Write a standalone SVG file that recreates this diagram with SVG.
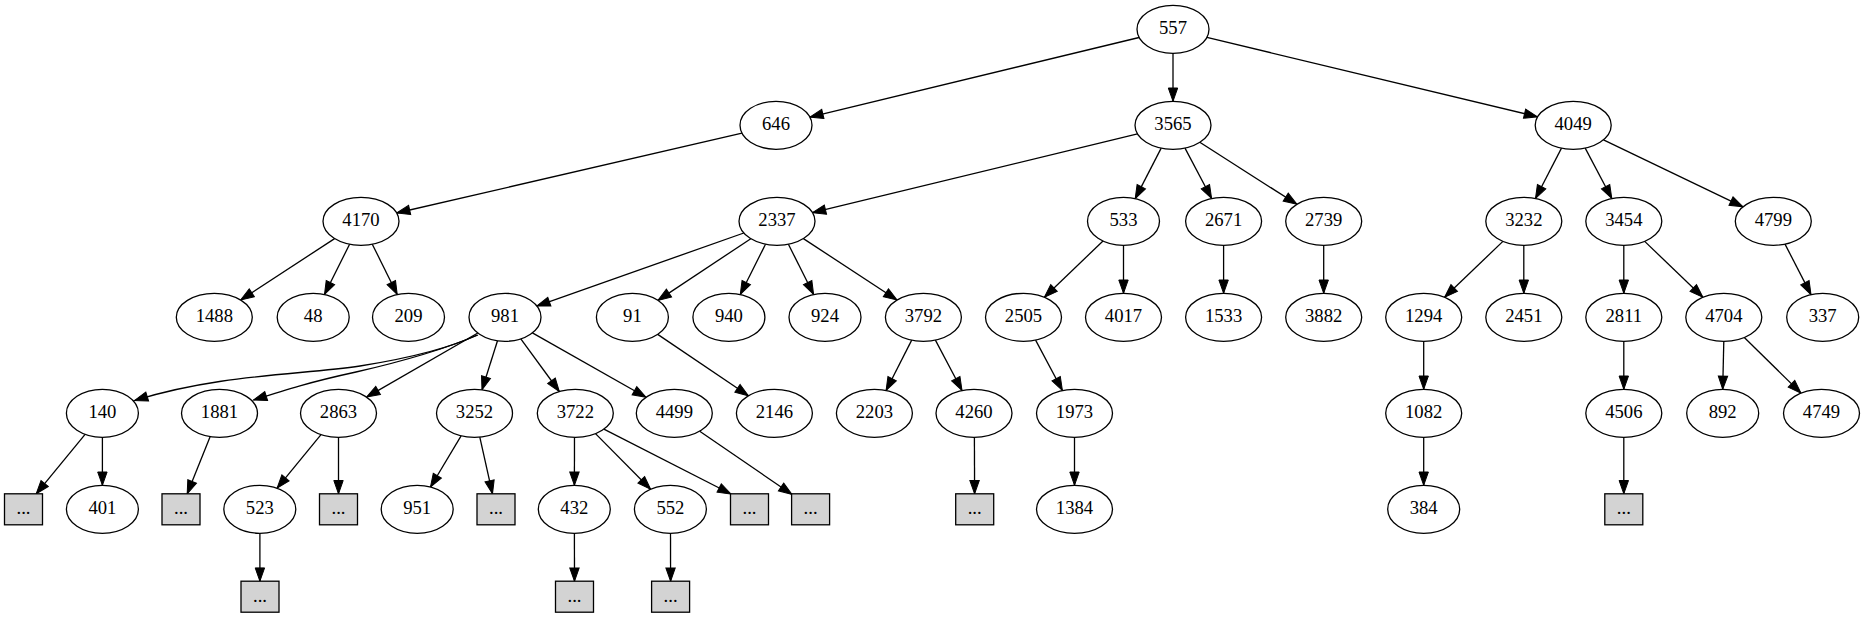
<svg xmlns="http://www.w3.org/2000/svg" width="1865" height="617" viewBox="0 0 1865 617">
<style>
.node ellipse{fill:#ffffff;stroke:#000000;stroke-width:1.3}
.node rect{fill:#d3d3d3;stroke:#000000;stroke-width:1.3}
.node text{font-family:"Liberation Serif","Times New Roman",serif;font-size:18.67px;text-anchor:middle;fill:#000000}
#edges path{fill:none;stroke:#000000;stroke-width:1.3;marker-end:url(#arr)}
</style>
<defs>
<marker id="arr" markerUnits="userSpaceOnUse" markerWidth="16" markerHeight="12" viewBox="0 -6 14 12" refX="13.3" refY="0" orient="auto">
<path d="M0,-4.7 L13.3,0 L0,4.7 z" fill="#000000" stroke="#000000" stroke-width="1"/>
</marker>
</defs>
<rect x="0" y="0" width="1865" height="617" fill="#ffffff"/>
<g id="edges">
<path d="M1139.1,37.5 L809.9,117.1"/>
<path d="M1173,53.3 L1173,101.3"/>
<path d="M1206.9,37.4 L1537.5,116.8"/>
<path d="M742,133.2 L396.7,213"/>
<path d="M1137.5,133.9 L812.5,212.7"/>
<path d="M1161.2,148.1 L1135.2,198.6"/>
<path d="M1185,148.1 L1211.6,198.5"/>
<path d="M1199.8,142.3 L1296.9,204.3"/>
<path d="M1561.5,148.1 L1535.5,198.5"/>
<path d="M1585.2,148.1 L1611.8,198.5"/>
<path d="M1603.5,139.8 L1743,206.8"/>
<path d="M334.6,238.6 L240.7,300"/>
<path d="M349.6,244.2 L324.5,294.5"/>
<path d="M372.3,244.2 L397.2,294.5"/>
<path d="M743.8,233 L536.8,306.1"/>
<path d="M750.8,238.7 L657.9,300.4"/>
<path d="M765.5,244.2 L740.3,294.5"/>
<path d="M788.4,244.2 L813.6,294.5"/>
<path d="M803.4,238.6 L897,300"/>
<path d="M1103,241 L1044.4,297.2"/>
<path d="M1123.5,245.3 L1123.5,293.3"/>
<path d="M1223.6,245.3 L1223.6,293.3"/>
<path d="M1323.7,245.3 L1323.7,293.3"/>
<path d="M1502.9,241.4 L1444.6,297.2"/>
<path d="M1523.8,245.3 L1523.8,293.3"/>
<path d="M1623.8,245.3 L1623.8,293.3"/>
<path d="M1644.7,241.4 L1702.9,297.2"/>
<path d="M1785,244.1 L1811,294.6"/>
<path d="M477,335 C452,347 410,358 360,366 C300,375 220,374 134.5,400.5"/>
<path d="M478,335 C440,351 400,362 356,372 C310,382 285,390 253.5,400"/>
<path d="M477.8,333 L366.6,397.1"/>
<path d="M497.5,340.8 L482,389.8"/>
<path d="M520.8,338.9 L559.3,391.5"/>
<path d="M532.4,332.9 L646,397.3"/>
<path d="M657.7,334.4 L748.5,395.8"/>
<path d="M911.7,340.1 L886.1,390.5"/>
<path d="M935.4,340.1 L962,390.5"/>
<path d="M1035.6,340.1 L1062.4,390.5"/>
<path d="M1423.7,341.3 L1423.7,389.3"/>
<path d="M1623.8,341.3 L1623.8,389.3"/>
<path d="M1723.8,341.3 L1722.7,389.3"/>
<path d="M1744.3,337.5 L1801,393.1"/>
<path d="M85.1,434.4 L36.2,493.8"/>
<path d="M102.4,437.3 L102.4,485.3"/>
<path d="M210.2,436.6 L187.2,493.8"/>
<path d="M321,434.6 L277.1,488.2"/>
<path d="M338.5,437.3 L338.5,493.8"/>
<path d="M461.1,435.8 L430.5,487"/>
<path d="M479.8,437.1 L492.5,493.8"/>
<path d="M574.5,437.3 L574.4,485.3"/>
<path d="M595.5,433.6 L650.6,489.3"/>
<path d="M603.9,429.1 L731,494"/>
<path d="M699.7,431.2 L792,494.5"/>
<path d="M974.4,437.3 L974.6,493.8"/>
<path d="M1074.5,437.3 L1074.5,485.3"/>
<path d="M1423.7,437.3 L1423.7,485.3"/>
<path d="M1623.8,437.3 L1623.8,493.8"/>
<path d="M259.9,533.3 L259.9,581.2"/>
<path d="M574.4,533.3 L574.5,581.2"/>
<path d="M670.5,533.3 L670.6,581.2"/>
</g>
<g id="n557" class="node"><ellipse cx="1173" cy="29.3" rx="36" ry="24"/><text x="1173" y="34.3">557</text></g>
<g id="n646" class="node"><ellipse cx="776" cy="125.3" rx="36" ry="24"/><text x="776" y="130.3">646</text></g>
<g id="n3565" class="node"><ellipse cx="1173" cy="125.3" rx="38" ry="24"/><text x="1173" y="130.3">3565</text></g>
<g id="n4049" class="node"><ellipse cx="1573.2" cy="125.3" rx="38" ry="24"/><text x="1573.2" y="130.3">4049</text></g>
<g id="n4170" class="node"><ellipse cx="361" cy="221.3" rx="38" ry="24"/><text x="361" y="226.3">4170</text></g>
<g id="n2337" class="node"><ellipse cx="777" cy="221.3" rx="38" ry="24"/><text x="777" y="226.3">2337</text></g>
<g id="n533" class="node"><ellipse cx="1123.5" cy="221.3" rx="36" ry="24"/><text x="1123.5" y="226.3">533</text></g>
<g id="n2671" class="node"><ellipse cx="1223.6" cy="221.3" rx="38" ry="24"/><text x="1223.6" y="226.3">2671</text></g>
<g id="n2739" class="node"><ellipse cx="1323.7" cy="221.3" rx="38" ry="24"/><text x="1323.7" y="226.3">2739</text></g>
<g id="n3232" class="node"><ellipse cx="1523.8" cy="221.3" rx="38" ry="24"/><text x="1523.8" y="226.3">3232</text></g>
<g id="n3454" class="node"><ellipse cx="1623.8" cy="221.3" rx="38" ry="24"/><text x="1623.8" y="226.3">3454</text></g>
<g id="n4799" class="node"><ellipse cx="1773.3" cy="221.3" rx="38" ry="24"/><text x="1773.3" y="226.3">4799</text></g>
<g id="n1488" class="node"><ellipse cx="214.3" cy="317.3" rx="38" ry="24"/><text x="214.3" y="322.3">1488</text></g>
<g id="n48" class="node"><ellipse cx="313.2" cy="317.3" rx="36" ry="24"/><text x="313.2" y="322.3">48</text></g>
<g id="n209" class="node"><ellipse cx="408.5" cy="317.3" rx="36" ry="24"/><text x="408.5" y="322.3">209</text></g>
<g id="n981" class="node"><ellipse cx="505" cy="317.3" rx="36" ry="24"/><text x="505" y="322.3">981</text></g>
<g id="n91" class="node"><ellipse cx="632.4" cy="317.3" rx="36" ry="24"/><text x="632.4" y="322.3">91</text></g>
<g id="n940" class="node"><ellipse cx="728.9" cy="317.3" rx="36" ry="24"/><text x="728.9" y="322.3">940</text></g>
<g id="n924" class="node"><ellipse cx="825" cy="317.3" rx="36" ry="24"/><text x="825" y="322.3">924</text></g>
<g id="n3792" class="node"><ellipse cx="923.4" cy="317.3" rx="38" ry="24"/><text x="923.4" y="322.3">3792</text></g>
<g id="n2505" class="node"><ellipse cx="1023.5" cy="317.3" rx="38" ry="24"/><text x="1023.5" y="322.3">2505</text></g>
<g id="n4017" class="node"><ellipse cx="1123.5" cy="317.3" rx="38" ry="24"/><text x="1123.5" y="322.3">4017</text></g>
<g id="n1533" class="node"><ellipse cx="1223.6" cy="317.3" rx="38" ry="24"/><text x="1223.6" y="322.3">1533</text></g>
<g id="n3882" class="node"><ellipse cx="1323.7" cy="317.3" rx="38" ry="24"/><text x="1323.7" y="322.3">3882</text></g>
<g id="n1294" class="node"><ellipse cx="1423.7" cy="317.3" rx="38" ry="24"/><text x="1423.7" y="322.3">1294</text></g>
<g id="n2451" class="node"><ellipse cx="1523.8" cy="317.3" rx="38" ry="24"/><text x="1523.8" y="322.3">2451</text></g>
<g id="n2811" class="node"><ellipse cx="1623.8" cy="317.3" rx="38" ry="24"/><text x="1623.8" y="322.3">2811</text></g>
<g id="n4704" class="node"><ellipse cx="1723.8" cy="317.3" rx="38" ry="24"/><text x="1723.8" y="322.3">4704</text></g>
<g id="n337" class="node"><ellipse cx="1822.7" cy="317.3" rx="36" ry="24"/><text x="1822.7" y="322.3">337</text></g>
<g id="n140" class="node"><ellipse cx="102.4" cy="413.3" rx="36" ry="24"/><text x="102.4" y="418.3">140</text></g>
<g id="n1881" class="node"><ellipse cx="219.5" cy="413.3" rx="38" ry="24"/><text x="219.5" y="418.3">1881</text></g>
<g id="n2863" class="node"><ellipse cx="338.5" cy="413.3" rx="38" ry="24"/><text x="338.5" y="418.3">2863</text></g>
<g id="n3252" class="node"><ellipse cx="474.5" cy="413.3" rx="38" ry="24"/><text x="474.5" y="418.3">3252</text></g>
<g id="n3722" class="node"><ellipse cx="575.3" cy="413.3" rx="38" ry="24"/><text x="575.3" y="418.3">3722</text></g>
<g id="n4499" class="node"><ellipse cx="674.3" cy="413.3" rx="38" ry="24"/><text x="674.3" y="418.3">4499</text></g>
<g id="n2146" class="node"><ellipse cx="774.4" cy="413.3" rx="38" ry="24"/><text x="774.4" y="418.3">2146</text></g>
<g id="n2203" class="node"><ellipse cx="874.4" cy="413.3" rx="38" ry="24"/><text x="874.4" y="418.3">2203</text></g>
<g id="n4260" class="node"><ellipse cx="974" cy="413.3" rx="38" ry="24"/><text x="974" y="418.3">4260</text></g>
<g id="n1973" class="node"><ellipse cx="1074.5" cy="413.3" rx="38" ry="24"/><text x="1074.5" y="418.3">1973</text></g>
<g id="n1082" class="node"><ellipse cx="1423.7" cy="413.3" rx="38" ry="24"/><text x="1423.7" y="418.3">1082</text></g>
<g id="n4506" class="node"><ellipse cx="1623.8" cy="413.3" rx="38" ry="24"/><text x="1623.8" y="418.3">4506</text></g>
<g id="n892" class="node"><ellipse cx="1722.7" cy="413.3" rx="36" ry="24"/><text x="1722.7" y="418.3">892</text></g>
<g id="n4749" class="node"><ellipse cx="1821.5" cy="413.3" rx="38" ry="24"/><text x="1821.5" y="418.3">4749</text></g>
<g id="box1" class="node"><rect x="4.5" y="493.8" width="38" height="31"/><text x="23.5" y="514.3">...</text></g>
<g id="n401" class="node"><ellipse cx="102.4" cy="509.3" rx="36" ry="24"/><text x="102.4" y="514.3">401</text></g>
<g id="box2" class="node"><rect x="162" y="493.8" width="38" height="31"/><text x="181" y="514.3">...</text></g>
<g id="n523" class="node"><ellipse cx="259.8" cy="509.3" rx="36" ry="24"/><text x="259.8" y="514.3">523</text></g>
<g id="box3" class="node"><rect x="319.5" y="493.8" width="38" height="31"/><text x="338.5" y="514.3">...</text></g>
<g id="n951" class="node"><ellipse cx="417.2" cy="509.3" rx="36" ry="24"/><text x="417.2" y="514.3">951</text></g>
<g id="box4" class="node"><rect x="477" y="493.8" width="38" height="31"/><text x="496" y="514.3">...</text></g>
<g id="n432" class="node"><ellipse cx="574.3" cy="509.3" rx="36" ry="24"/><text x="574.3" y="514.3">432</text></g>
<g id="n552" class="node"><ellipse cx="670.4" cy="509.3" rx="36" ry="24"/><text x="670.4" y="514.3">552</text></g>
<g id="box5" class="node"><rect x="730.5" y="493.8" width="38" height="31"/><text x="749.5" y="514.3">...</text></g>
<g id="box6" class="node"><rect x="791.6" y="493.8" width="38" height="31"/><text x="810.6" y="514.3">...</text></g>
<g id="box7" class="node"><rect x="955.7" y="493.8" width="38" height="31"/><text x="974.7" y="514.3">...</text></g>
<g id="n1384" class="node"><ellipse cx="1074.5" cy="509.3" rx="38" ry="24"/><text x="1074.5" y="514.3">1384</text></g>
<g id="n384" class="node"><ellipse cx="1423.7" cy="509.3" rx="36" ry="24"/><text x="1423.7" y="514.3">384</text></g>
<g id="box8" class="node"><rect x="1604.8" y="493.8" width="38" height="31"/><text x="1623.8" y="514.3">...</text></g>
<g id="box9" class="node"><rect x="241" y="581.2" width="38" height="31"/><text x="260" y="601.7">...</text></g>
<g id="box10" class="node"><rect x="555.5" y="581.2" width="38" height="31"/><text x="574.5" y="601.7">...</text></g>
<g id="box11" class="node"><rect x="651.6" y="581.2" width="38" height="31"/><text x="670.6" y="601.7">...</text></g>
</svg>
